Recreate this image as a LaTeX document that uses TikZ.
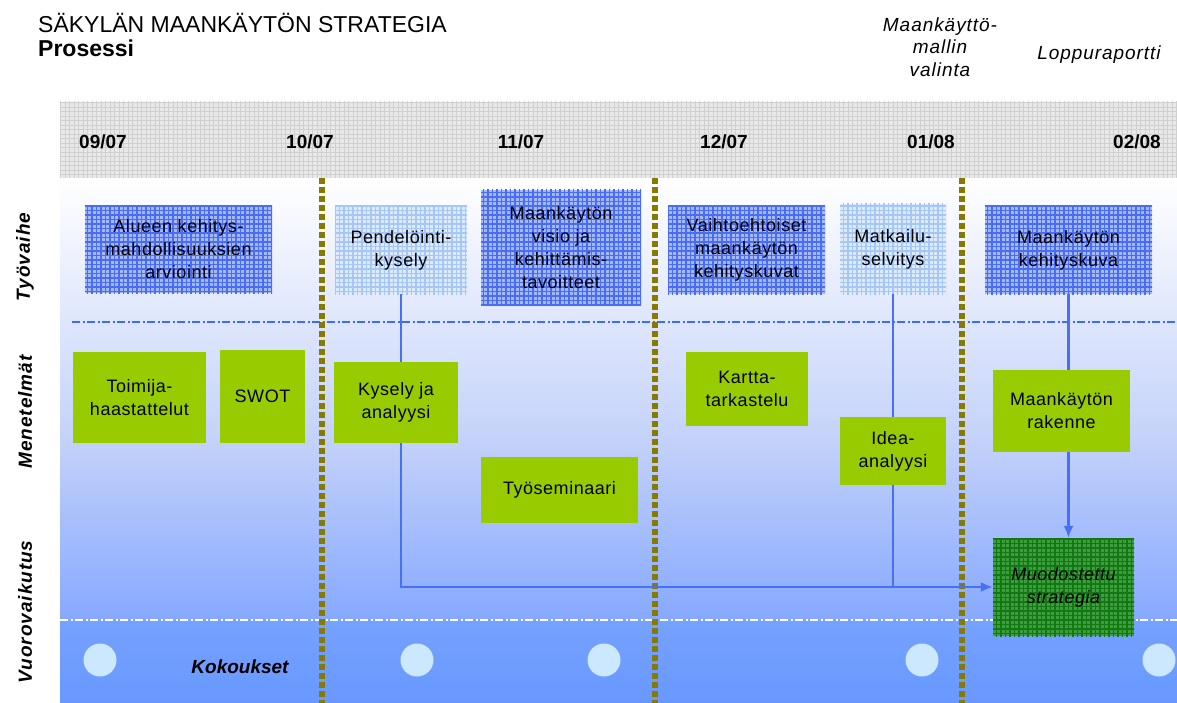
\documentclass[tikz,border=0pt]{standalone}
\usepackage{fontspec}
\setmainfont{Liberation Sans}
\newfontfamily\boxfont[LetterSpace=3]{Liberation Sans}
\newfontfamily\labfont[LetterSpace=5]{Liberation Sans}
\usetikzlibrary{arrows.meta,patterns}

\definecolor{phasebg}{HTML}{A4B9FC}
\definecolor{phasegrid}{HTML}{4A6CF0}
\definecolor{surveybg}{HTML}{DDEBFF}
\definecolor{surveygrid}{HTML}{A6C6F8}
\definecolor{methodbg}{HTML}{99CC00}
\definecolor{stratbg}{HTML}{3C9E3C}
\definecolor{stratgrid}{HTML}{137813}
\definecolor{hdrbg}{HTML}{E8E8E8}
\definecolor{hdrgrid}{HTML}{D0D0D0}
\definecolor{bgmid}{HTML}{C4D2FA}
\definecolor{bglow}{HTML}{86A8FF}
\definecolor{bgband}{HTML}{76A2FF}
\definecolor{bgbot}{HTML}{6898FF}
\definecolor{connblue}{HTML}{4670F5}
\definecolor{sepblue}{HTML}{3D6BFF}
\definecolor{olive}{HTML}{877A00}
\definecolor{meetcol}{HTML}{CCE8FF}

% grid fill for the boxes and the month band
\pgfdeclarepatternformonly{boxgrid}{\pgfqpoint{-1pt}{-1pt}}{\pgfqpoint{5.5pt}{5.5pt}}{\pgfqpoint{4.5pt}{4.5pt}}{%
  \pgfsetlinewidth{1.2pt}%
  \pgfpathmoveto{\pgfqpoint{2pt}{0pt}}\pgfpathlineto{\pgfqpoint{2pt}{4.5pt}}%
  \pgfpathmoveto{\pgfqpoint{0pt}{2pt}}\pgfpathlineto{\pgfqpoint{4.5pt}{2pt}}%
  \pgfusepath{stroke}}
\pgfdeclarepatternformonly{bandgrid}{\pgfqpoint{-1pt}{-1pt}}{\pgfqpoint{5pt}{5pt}}{\pgfqpoint{4.5pt}{4.5pt}}{%
  \pgfsetlinewidth{0.6pt}%
  \pgfpathmoveto{\pgfqpoint{2pt}{0pt}}\pgfpathlineto{\pgfqpoint{2pt}{4.5pt}}%
  \pgfpathmoveto{\pgfqpoint{0pt}{2pt}}\pgfpathlineto{\pgfqpoint{4.5pt}{2pt}}%
  \pgfusepath{stroke}}

\begin{document}
\begin{tikzpicture}
  [x=1pt,y=-1pt,
   every node/.style={inner sep=0pt,align=center},
   boxtxt/.style={font=\boxfont\fontsize{18}{23}\selectfont},
   phase/.style={boxtxt,fill=phasebg,postaction={pattern=boxgrid,pattern color=phasegrid}},
   survey/.style={boxtxt,fill=surveybg,postaction={pattern=boxgrid,pattern color=surveygrid}},
   method/.style={boxtxt,fill=methodbg},
   result/.style={boxtxt,fill=stratbg,postaction={pattern=boxgrid,pattern color=stratgrid}},
   month/.style={font=\bfseries\fontsize{19}{21}\selectfont},
   rowlab/.style={rotate=90,font=\labfont\bfseries\itshape\fontsize{19}{21}\selectfont},
   toplab/.style={font=\labfont\itshape\fontsize{19}{22.5}\selectfont},
   meeting/.style={circle,fill=meetcol,minimum size=33pt},
   conn/.style={draw=connblue,line width=2.5pt},
   tip/.style={-{Latex[length=12pt,width=10pt]}},
   rowsep/.style={draw=sepblue,line width=1.5pt,dash pattern=on 8pt off 2.5pt on 2pt off 2.5pt},
   meetsep/.style={draw=white,line width=1.5pt,dash pattern=on 8pt off 2.5pt on 2pt off 2.5pt},
   milestone/.style={draw=olive,line width=6pt,dash pattern=on 6pt off 3pt}]
  \useasboundingbox (0,0) rectangle (1177,703);

  % background
  \shade[top color=white,bottom color=bgmid] (60,178) rectangle (1177,440);
  \shade[top color=bgmid,bottom color=bglow] (60,440) rectangle (1177,620);
  \shade[top color=bgband,bottom color=bgbot] (60,620) rectangle (1177,703);
  \fill[hdrbg] (60,102) rectangle (1177,178);
  \fill[pattern=bandgrid,pattern color=hdrgrid] (60,102) rectangle (1177,178);

  \draw[rowsep] (72,322) -- (1177,322);
  \draw[meetsep] (60,620) -- (1177,620);
  \foreach \xm in {322,655,962}
    \draw[milestone] (\xm,178) -- (\xm,703);

  % titles
  \node[anchor=base west,font=\fontsize{23}{26}\selectfont] (title) at (38,33) {SÄKYLÄN MAANKÄYTÖN STRATEGIA};
  \node[anchor=base west,font=\bfseries\fontsize{23}{26}\selectfont] (sub) at (38,57) {Prosessi};
  \node[toplab] (valinta) at (940,47) {Maankäyttö-\\mallin\\valinta};
  \node[toplab] (raportti) at (1099,55) {Loppuraportti};

  % months
  \node[month] (m0907) at (103,142) {09/07};
  \node[month] (m1007) at (310,142) {10/07};
  \node[month] (m1107) at (521,142) {11/07};
  \node[month] (m1207) at (724,142) {12/07};
  \node[month] (m0108) at (931,142) {01/08};
  \node[month] (m0208) at (1137,142) {02/08};

  % rows
  \node[rowlab] (tyovaihe) at (25,257) {Työvaihe};
  \node[rowlab] (menet) at (25,412) {Menetelmät};
  \node[rowlab] (vuoro) at (25,612) {Vuorovaikutus};

  % work phases
  \node[phase,minimum width=187pt,minimum height=87pt] (alue) at (178.5,249.5) {Alueen kehitys-\\mahdollisuuksien\\arviointi};
  \node[survey,minimum width=132pt,minimum height=88pt] (pend) at (401,250) {Pendelöinti-\\kysely};
  \node[phase,minimum width=160pt,minimum height=115pt] (visio) at (561,247.5) {Maankäytön\\visio ja\\kehittämis-\\tavoitteet};
  \node[phase,minimum width=157pt,minimum height=88pt] (vaiht) at (746.5,250) {Vaihtoehtoiset\\maankäytön\\kehityskuvat};
  \node[survey,minimum width=106pt,minimum height=90pt] (matk) at (893,249) {Matkailu-\\selvitys};
  \node[phase,minimum width=167pt,minimum height=88pt] (kehk) at (1068.5,250) {Maankäytön\\kehityskuva};

  % methods
  \node[method,minimum width=133pt,minimum height=91pt] (toim) at (139.5,397.5) {Toimija-\\haastattelut};
  \node[method,minimum width=85pt,minimum height=93pt] (swot) at (262.5,396.5) {SWOT};
  \node[method,minimum width=124pt,minimum height=81pt] (kysa) at (396,402.5) {Kysely ja\\analyysi};
  \node[method,minimum width=157pt,minimum height=66pt] (tyos) at (559.5,490) {Työseminaari};
  \node[method,minimum width=122pt,minimum height=74pt] (kart) at (747,389) {Kartta-\\tarkastelu};
  \node[method,minimum width=106pt,minimum height=68pt] (idea) at (893,451) {Idea-\\analyysi};
  \node[method,minimum width=137pt,minimum height=82pt] (rak) at (1061.5,411) {Maankäytön\\rakenne};
  \node[result,minimum width=141pt,minimum height=98pt,font=\boxfont\itshape\fontsize{18}{23}\selectfont] (muod) at (1063.5,587) {Muodostettu\\strategia};

  % meetings
  \node[meeting] (k1) at (100,660) {};
  \node[meeting] (k2) at (417,660) {};
  \node[meeting] (k3) at (604,660) {};
  \node[meeting] (k4) at (922,660) {};
  \node[meeting] (k5) at (1159,660) {};
  \node[font=\bfseries\itshape\fontsize{19}{21}\selectfont] (kokous) at (240,667) {Kokoukset};

  \foreach \from/\to in {pend/kysa,matk/idea,kehk/rak}
    \draw[conn] (\from.south) -- (\from.south |- \to.north);
  \draw[conn,tip] (pend.south |- kysa.south) |- (muod.west);
  \draw[conn] (idea.south) -- (idea.south |- muod.west);
  \draw[conn,tip] (kehk.south |- rak.south) -- (kehk.south |- muod.north);
\end{tikzpicture}
\end{document}
